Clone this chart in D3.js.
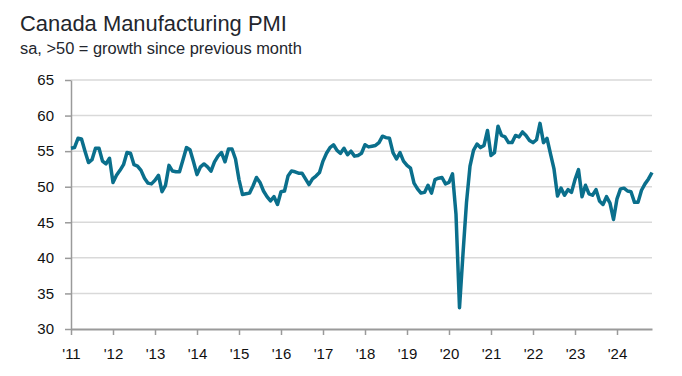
<!DOCTYPE html>
<html>
<head>
<meta charset="utf-8">
<script src="https://cdn.jsdelivr.net/npm/d3@7"></script>
<style>
  body { margin: 0; background: #fff; }
  svg { display: block; }
</style>
</head>
<body>
<div class="canvas"></div>
<script>
// Monthly PMI readings, Jan 2011 - Nov 2024

const pmi = [
  55.4, 55.5, 56.8, 56.7, 55.0, 53.4, 53.8, 55.4, 55.4, 53.6, 53.2, 54.0,   // 2011
  50.6, 51.6, 52.3, 53.1, 54.8, 54.7, 53.1, 52.9, 52.3, 51.2, 50.5, 50.4,   // 2012
  50.9, 51.6, 49.3, 50.2, 53.0, 52.2, 52.1, 52.1, 53.8, 55.5, 55.2, 53.5,   // 2013
  51.7, 52.8, 53.2, 52.8, 52.2, 53.5, 54.3, 54.8, 53.5, 55.3, 55.3, 53.9,   // 2014
  51.0, 48.9, 49.0, 49.1, 50.1, 51.3, 50.6, 49.4, 48.6, 48.0, 48.6, 47.5,   // 2015
  49.3, 49.4, 51.5, 52.2, 52.1, 51.9, 51.9, 51.1, 50.3, 51.1, 51.5, 52.0,   // 2016
  53.6, 54.7, 55.5, 55.9, 55.1, 54.7, 55.4, 54.5, 55.0, 54.3, 54.4, 54.7,   // 2017
  55.9, 55.6, 55.7, 55.8, 56.2, 57.1, 56.9, 56.8, 54.8, 53.9, 54.8, 53.6,   // 2018
  53.0, 52.6, 50.5, 49.7, 49.1, 49.2, 50.2, 49.1, 51.0, 51.2, 51.3, 50.4,   // 2019
  50.6, 51.8, 46.1, 33.0, 40.6, 47.8, 52.9, 55.1, 56.0, 55.5, 55.8, 57.9,   // 2020
  54.4, 54.8, 58.5, 57.2, 57.0, 56.2, 56.2, 57.2, 57.0, 57.7, 57.2, 56.5,   // 2021
  56.2, 56.6, 58.9, 56.2, 56.8, 54.6, 52.5, 48.7, 49.8, 48.8, 49.6, 49.2,   // 2022
  51.0, 52.4, 48.6, 50.2, 49.0, 48.8, 49.6, 48.0, 47.5, 48.6, 47.7, 45.4,   // 2023
  48.3, 49.7, 49.8, 49.4, 49.3, 47.8, 47.8, 49.5, 50.4, 51.1, 52.0          // 2024
];

const yearLabels = ["'11", "'12", "'13", "'14", "'15", "'16", "'17", "'18", "'19", "'20", "'21", "'22", "'23", "'24"];
const yTicks = [30, 35, 40, 45, 50, 55, 60, 65];

// Dimensions

const W = 682, H = 376;
const plot = { left: 71, right: 652, top: 80, bottom: 329 };

const svg = d3.select(".canvas")
    .append("svg")
        .attr("width", W)
        .attr("height", H);

// Scales

const x = d3.scaleLinear()
    .domain([0, 166])
    .range([plot.left, plot.right]);

const y = d3.scaleLinear()
    .domain([30, 65])
    .range([plot.bottom, plot.top]);

// Title & subtitle, sized to the reference widths

function fitText(sel, target) {
    const size = parseFloat(sel.style("font-size"));
    const len = sel.node().getComputedTextLength();
    sel.style("font-size", (size * target / len).toFixed(2) + "px");
}

const title = svg.append("text")
    .attr("x", 20)
    .attr("y", 31)
    .style("font-family", "'Liberation Sans', Arial, sans-serif")
    .style("font-size", "21px")
    .style("fill", "#23262d")
    .text("Canada Manufacturing PMI");
fitText(title, 267);

const subtitle = svg.append("text")
    .attr("x", 20)
    .attr("y", 54)
    .style("font-family", "'Liberation Sans', Arial, sans-serif")
    .style("font-size", "15px")
    .style("fill", "#23262d")
    .text("sa, >50 = growth since previous month");
fitText(subtitle, 282);

// Horizontal gridlines

svg.selectAll(".yGrid")
    .data(yTicks.slice(1))
    .join("line")
    .attr("class", "yGrid")
    .attr("x1", plot.left)
    .attr("x2", plot.right)
    .attr("y1", d => y(d))
    .attr("y2", d => y(d))
    .attr("stroke", "#d9d9d9")
    .attr("stroke-width", 1.5);

// y-axis

svg.append("g")
    .attr("transform", `translate(${plot.left},0)`)
    .call(d3.axisLeft(y)
        .tickValues(yTicks)
        .tickSize(6)
        .tickSizeOuter(0)
        .tickPadding(11))
    .call(g => g.select(".domain").attr("stroke", "#9a9a9a").attr("stroke-width", 1.5))
    .call(g => g.selectAll(".tick line").attr("stroke", "#9a9a9a").attr("stroke-width", 1.5))
    .selectAll(".tick text")
    .style("font-family", "'Liberation Sans', Arial, sans-serif")
    .style("font-size", "15px")
    .style("fill", "#111");

// x-axis

svg.append("g")
    .attr("transform", `translate(0,${plot.bottom})`)
    .call(d3.axisBottom(x)
        .tickValues(yearLabels.map((d, i) => i * 12))
        .tickFormat((d, i) => yearLabels[i])
        .tickSize(6)
        .tickSizeOuter(0)
        .tickPadding(13))
    .call(g => g.select(".domain").attr("stroke", "#9a9a9a").attr("stroke-width", 2))
    .call(g => g.selectAll(".tick line").attr("stroke", "#9a9a9a").attr("stroke-width", 1.5))
    .selectAll(".tick text")
    .style("font-family", "'Liberation Sans', Arial, sans-serif")
    .style("font-size", "15px")
    .style("fill", "#111");

// PMI line

const pmiLine = d3.line()
    .x((d, i) => x(i))
    .y(d => y(d));

svg.append("path")
    .datum(pmi)
    .attr("fill", "none")
    .attr("stroke", "#0a6f8c")
    .attr("stroke-width", 3.5)
    .attr("stroke-linejoin", "round")
    .attr("d", pmiLine);
</script>
</body>
</html>
